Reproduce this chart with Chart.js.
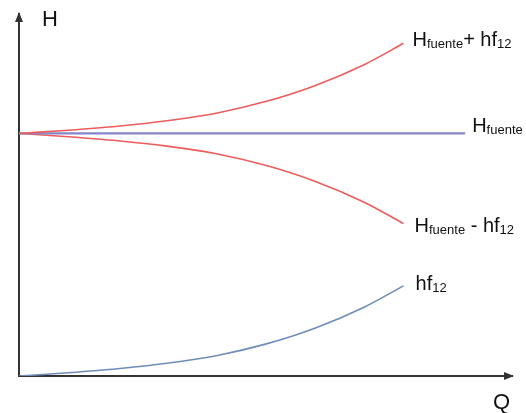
<!DOCTYPE html>
<html lang="es">
<head>
    <meta charset="UTF-8">
    <title>H - Q</title>
    <script src="https://cdn.jsdelivr.net/npm/chart.js"></script>
    <style>
        body { margin: 0; background: #fff; }
        #wrap { width: 526px; height: 413px; }
    </style>
</head>
<body>
    <div id="wrap"><canvas id="chart" width="526" height="413"></canvas></div>
    <script>
        // values (Q and H in arbitrary 0-100 units)
        const qPoints = [0, 10, 20, 30, 40, 50, 60, 70, 78];
        const hfuenteQ = [0, 90.5];
        const hfuente = [67, 67];
        const hfuenteMasHf = [67, 67.9, 69.0, 70.5, 72.6, 75.8, 80.2, 86.0, 91.9];
        const hfuenteMenosHf = [67, 66.1, 65.0, 63.5, 61.4, 58.2, 53.8, 48.0, 42.1];
        const hf12 = [0, 0.9, 2.0, 3.5, 5.6, 8.8, 13.2, 19.0, 24.9];

        const toPts = (xs, ys) => xs.map((x, i) => ({ x: x, y: ys[i] }));

        const axisColor = '#333';
        const textFont = '"Liberation Sans", Arial, sans-serif';

        // curve labels: main text and subscripts, anchored to the last point of each curve
        const labels = [
            { ds: 0, dx: 9, dy: 3, parts: [['H', 20], ['fuente', 13], ['+ hf', 20], ['12', 13]] },
            { ds: 1, dx: 7, dy: -1, parts: [['H', 20], ['fuente', 13]] },
            { ds: 2, dx: 11, dy: 8, parts: [['H', 20], ['fuente', 13], [' - hf', 20], ['12', 13]] },
            { ds: 3, dx: 12, dy: 4, parts: [['hf', 20], ['12', 13]] }
        ];

        const decorations = {
            id: 'decorations',
            afterDraw(chart) {
                const ctx = chart.ctx;
                const a = chart.chartArea;
                ctx.save();
                // arrow heads
                ctx.fillStyle = axisColor;
                ctx.beginPath();
                ctx.moveTo(a.left, a.top - 2);
                ctx.lineTo(a.left - 4, a.top + 8);
                ctx.lineTo(a.left + 4, a.top + 8);
                ctx.closePath();
                ctx.fill();
                ctx.beginPath();
                ctx.moveTo(a.right + 2, a.bottom);
                ctx.lineTo(a.right - 8, a.bottom - 4);
                ctx.lineTo(a.right - 8, a.bottom + 4);
                ctx.closePath();
                ctx.fill();

                // axis names
                ctx.fillStyle = '#111';
                ctx.textBaseline = 'alphabetic';
                ctx.font = '22px ' + textFont;
                ctx.fillText('H', a.left + 23, a.top + 12);
                ctx.fillText('Q', a.right - 19, a.bottom + 33);

                // curve labels with subscripts
                labels.forEach(l => {
                    const pts = chart.getDatasetMeta(l.ds).data;
                    const p = pts[pts.length - 1];
                    let x = p.x + l.dx;
                    const y = p.y + l.dy;
                    l.parts.forEach(([t, size]) => {
                        ctx.font = size + 'px ' + textFont;
                        ctx.fillText(t, x, size < 18 ? y + 2 : y);
                        x += ctx.measureText(t).width;
                    });
                });
                ctx.restore();
            }
        };

        new Chart(document.getElementById('chart'), {
            type: 'scatter',
            data: {
                datasets: [
                    {
                        label: 'Hfuente + hf12',
                        data: toPts(qPoints, hfuenteMasHf),
                        borderColor: '#ee5c5c',
                        borderWidth: 1.6,
                        showLine: true,
                        pointRadius: 0,
                        cubicInterpolationMode: 'monotone'
                    },
                    {
                        label: 'Hfuente',
                        data: toPts(hfuenteQ, hfuente),
                        borderColor: '#8585c9',
                        borderWidth: 2.2,
                        showLine: true,
                        pointRadius: 0
                    },
                    {
                        label: 'Hfuente - hf12',
                        data: toPts(qPoints, hfuenteMenosHf),
                        borderColor: '#ee5c5c',
                        borderWidth: 1.6,
                        showLine: true,
                        pointRadius: 0,
                        cubicInterpolationMode: 'monotone'
                    },
                    {
                        label: 'hf12',
                        data: toPts(qPoints, hf12),
                        borderColor: '#6f8db8',
                        borderWidth: 1.6,
                        showLine: true,
                        pointRadius: 0,
                        cubicInterpolationMode: 'monotone'
                    }
                ]
            },
            options: {
                responsive: false,
                animation: false,
                layout: { padding: { left: 11, top: 14, right: 14, bottom: 29 } },
                plugins: {
                    legend: { display: false },
                    tooltip: { enabled: false }
                },
                scales: {
                    x: {
                        type: 'linear',
                        min: 0,
                        max: 100,
                        grid: { display: false },
                        ticks: { display: false },
                        border: { display: true, color: axisColor, width: 2 }
                    },
                    y: {
                        type: 'linear',
                        min: 0,
                        max: 100,
                        grid: { display: false },
                        ticks: { display: false },
                        border: { display: true, color: axisColor, width: 2 }
                    }
                }
            },
            plugins: [decorations]
        });
    </script>
</body>
</html>
